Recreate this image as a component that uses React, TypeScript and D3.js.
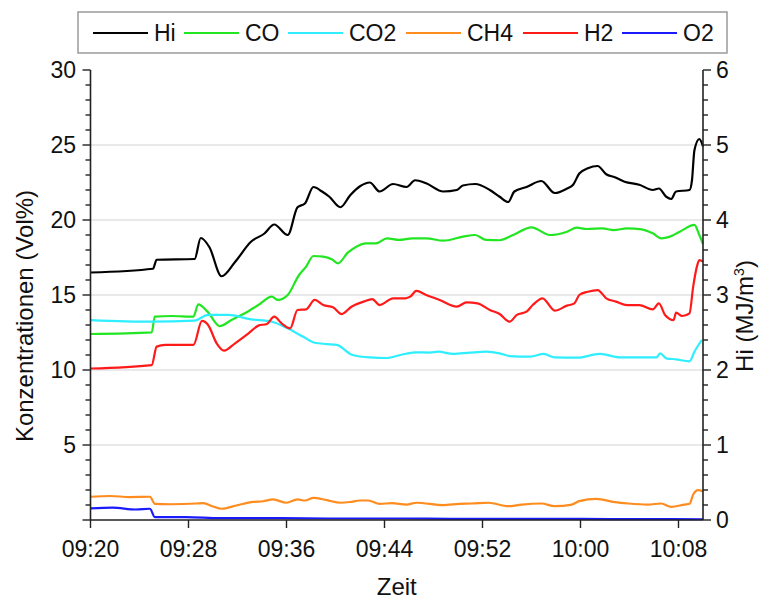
import React from "react";
import * as d3 from "d3";

// Minutes after 09:20 and measured values per gas / heating value
const START = new Date(2020, 0, 1, 9, 20, 0);

const hiData: [number, number][] = [
  [0.0, 3.3], [5.1, 3.35], [5.4, 3.47], [8.5, 3.48], [9.0, 3.76], [9.7, 3.64], [10.7, 3.25],
  [11.8, 3.44], [13.1, 3.71], [14.2, 3.82], [15.0, 3.94], [16.1, 3.8], [16.9, 4.17], [17.5, 4.22],
  [18.2, 4.44], [18.9, 4.38], [19.5, 4.31], [20.4, 4.17], [21.2, 4.33], [22.0, 4.45], [22.8, 4.5],
  [23.6, 4.38], [24.7, 4.48], [25.8, 4.44], [26.5, 4.53], [27.4, 4.49], [28.8, 4.38], [29.9, 4.4],
  [30.4, 4.46], [31.4, 4.48], [32.6, 4.4], [33.4, 4.31], [34.1, 4.24], [34.6, 4.38], [35.6, 4.44],
  [36.8, 4.52], [37.9, 4.36], [38.9, 4.42], [39.4, 4.47], [39.9, 4.62], [40.6, 4.69], [41.4, 4.72],
  [42.1, 4.61], [42.8, 4.57], [43.6, 4.51], [44.8, 4.47], [45.9, 4.4], [46.4, 4.42], [47.0, 4.31],
  [47.4, 4.28], [47.8, 4.38], [48.9, 4.4], [49.1, 4.53], [49.3, 4.93], [49.7, 5.08], [50.0, 4.98],
];

const coData: [number, number][] = [
  [0.0, 12.4], [5.0, 12.51], [5.25, 13.56], [6.6, 13.6], [8.4, 13.56], [8.8, 14.38], [9.55, 13.89],
  [10.55, 12.93], [11.5, 13.33], [12.6, 13.78], [13.7, 14.33], [14.8, 14.89], [15.3, 14.67],
  [16.1, 15.0], [17.0, 16.3], [17.6, 16.89], [18.2, 17.6], [19.0, 17.56], [19.7, 17.38],
  [20.2, 17.11], [21.0, 17.82], [21.7, 18.22], [22.5, 18.44], [23.3, 18.44], [24.2, 18.78],
  [25.2, 18.67], [26.3, 18.78], [27.4, 18.78], [28.8, 18.62], [30.4, 18.89], [31.4, 19.0],
  [32.3, 18.67], [33.4, 18.65], [34.5, 19.0], [36.0, 19.51], [37.5, 19.0], [38.9, 19.22],
  [39.7, 19.49], [40.5, 19.4], [41.8, 19.44], [42.7, 19.33], [43.8, 19.44], [45.0, 19.38],
  [45.9, 19.11], [46.6, 18.78], [47.3, 18.89], [48.1, 19.22], [49.3, 19.67], [49.7, 19.0], [50.0, 18.4],
];

const co2Data: [number, number][] = [
  [0.0, 13.33], [5.0, 13.22], [8.5, 13.29], [9.6, 13.67], [11.2, 13.67], [13.1, 13.38], [14.8, 13.22],
  [16.1, 12.78], [17.4, 12.2], [18.3, 11.82], [19.3, 11.73], [20.1, 11.67], [21.4, 11.0], [22.8, 10.84],
  [24.2, 10.8], [25.3, 11.0], [26.5, 11.18], [27.7, 11.16], [28.4, 11.22], [29.6, 11.07], [31.0, 11.16],
  [32.3, 11.22], [33.4, 11.11], [34.2, 10.93], [35.9, 10.89], [37.0, 11.07], [37.9, 10.84], [39.7, 10.82],
  [41.6, 11.07], [43.2, 10.84], [44.8, 10.84], [46.2, 10.84], [46.5, 11.11], [47.0, 10.78], [47.8, 10.71],
  [48.9, 10.58], [49.3, 11.22], [49.9, 12.0],
];

const ch4Data: [number, number][] = [
  [0.0, 1.55], [1.6, 1.6], [3.2, 1.53], [4.85, 1.55], [5.25, 1.08], [6.5, 1.05], [8.65, 1.1], [9.2, 1.13],
  [10.0, 0.9], [10.7, 0.75], [11.9, 0.97], [13.3, 1.21], [14.1, 1.25], [14.9, 1.37], [16.0, 1.15],
  [16.9, 1.37], [17.5, 1.3], [18.2, 1.48], [19.3, 1.32], [20.4, 1.15], [21.2, 1.2], [22.0, 1.3],
  [22.7, 1.3], [23.6, 1.08], [24.6, 1.12], [25.8, 1.03], [26.6, 1.15], [28.8, 0.99], [30.1, 1.08],
  [31.1, 1.1], [32.5, 1.15], [34.1, 0.92], [35.2, 1.03], [36.8, 1.1], [37.9, 0.92], [39.3, 1.03],
  [39.9, 1.26], [41.3, 1.41], [42.8, 1.19], [43.9, 1.1], [45.5, 1.03], [46.6, 1.1], [47.4, 0.88],
  [48.5, 1.03], [48.9, 1.08], [49.2, 1.7], [49.6, 1.99], [50.0, 1.9],
];

const h2Data: [number, number][] = [
  [0.0, 10.1], [5.0, 10.33], [5.4, 11.56], [6.1, 11.67], [8.4, 11.67], [9.1, 13.27], [9.6, 13.0],
  [10.3, 11.78], [10.9, 11.29], [11.8, 11.78], [12.9, 12.44], [13.7, 12.96], [14.4, 13.07], [15.0, 13.56],
  [15.6, 13.11], [16.3, 12.78], [16.9, 14.0], [17.6, 14.04], [18.3, 14.67], [19.0, 14.33], [19.8, 14.18],
  [20.5, 13.73], [21.3, 14.22], [22.3, 14.56], [23.0, 14.73], [23.6, 14.33], [24.7, 14.78], [25.7, 14.78],
  [26.1, 14.89], [26.6, 15.27], [27.4, 15.0], [28.5, 14.67], [29.9, 14.22], [30.7, 14.51], [31.6, 14.44],
  [32.6, 14.0], [33.4, 13.73], [34.2, 13.22], [34.8, 13.67], [35.6, 13.89], [36.1, 14.33], [36.9, 14.78],
  [37.9, 13.96], [38.9, 14.29], [39.5, 14.44], [39.9, 15.0], [40.6, 15.22], [41.4, 15.33], [42.1, 14.78],
  [42.9, 14.56], [43.8, 14.33], [44.8, 14.33], [45.9, 14.04], [46.4, 14.44], [46.9, 13.67], [47.6, 13.33],
  [47.8, 13.82], [48.3, 13.6], [48.9, 13.78], [49.2, 15.56], [49.5, 16.89], [49.7, 17.33], [50.0, 17.22],
];

const o2Data: [number, number][] = [
  [0.0, 0.77], [1.8, 0.82], [3.7, 0.7], [4.85, 0.75], [5.25, 0.19], [7.8, 0.19], [10.6, 0.12],
  [15.0, 0.12], [20.0, 0.1], [25.0, 0.1], [30.0, 0.08], [35.0, 0.08], [40.0, 0.07], [45.0, 0.06], [50.0, 0.05],
];

const seriesNames = ["Hi", "CO", "CO2", "CH4", "H2", "O2"];
const seriesColors = ["#000000", "#22e622", "#2eeeff", "#ff8c1e", "#ff1a1a", "#1a1aff"];
const seriesData = [hiData, coData, co2Data, ch4Data, h2Data, o2Data];

const leftTicks = [5, 10, 15, 20, 25, 30];
const rightTicks = [0, 1, 2, 3, 4, 5, 6];
const timeTicks = ["09:20", "09:28", "09:36", "09:44", "09:52", "10:00", "10:08"];

const W = 761;
const H = 600;
const M = { left: 90.5, right: 703, top: 70, bottom: 520 };
const FONT = "'Liberation Sans', Arial, sans-serif";
const TICK_FONT = 23;
const TITLE_FONT = 24;

const toDate = (m: number) => new Date(START.getTime() + m * 60000);
const parseHM = d3.timeParse("%H:%M");

export default function App() {
  const x = d3.scaleTime().domain([toDate(0), toDate(50)]).range([M.left, M.right]);
  const yL = d3.scaleLinear().domain([0, 30]).range([M.bottom, M.top]);
  const yR = d3.scaleLinear().domain([0, 6]).range([M.bottom, M.top]);

  const makeLine = (scale: d3.ScaleLinear<number, number>) =>
    d3
      .line<[number, number]>()
      .x((d) => x(toDate(d[0])))
      .y((d) => scale(d[1]))
      .curve(d3.curveMonotoneX);

  const lineL = makeLine(yL);
  const lineR = makeLine(yR);

  const tickDates = timeTicks.map((t) => {
    const p = parseHM(t)!;
    return new Date(2020, 0, 1, p.getHours(), p.getMinutes());
  });

  const leftMinor = d3.range(0, 31, 1);
  const rightMinor = d3.range(0, 6.001, 0.2);

  const legendX = [93, 184, 288, 406, 523, 622];
  const midY = 316;

  return (
    <svg width={W} height={H} style={{ display: "block", position: "absolute", left: 0, top: 0 }} fontFamily={FONT}>
      <rect x={0} y={0} width={W} height={H} fill="#fff" />
      {/* horizontal grid */}
      {[5, 10, 15, 20, 25].map((v) => (
        <line key={v} x1={M.left} x2={M.right} y1={yL(v)} y2={yL(v)} stroke="#e2e2e2" strokeWidth={1.5} />
      ))}

      {/* data lines */}
      {seriesData.map((data, i) => (
        <path
          key={seriesNames[i]}
          d={(i === 0 ? lineR : lineL)(data) || ""}
          fill="none"
          stroke={seriesColors[i]}
          strokeWidth={2.2}
          strokeLinejoin="round"
        />
      ))}

      {/* left axis */}
      <line x1={M.left} x2={M.left} y1={M.top} y2={M.bottom} stroke="#222" strokeWidth={1.6} />
      {leftMinor.map((v) => (
        <line key={v} x1={M.left - (v % 5 === 0 ? 8 : 5)} x2={M.left} y1={yL(v)} y2={yL(v)} stroke="#222" strokeWidth={1.4} />
      ))}
      {leftTicks.map((v) => (
        <text key={v} x={76} y={yL(v) + 8} textAnchor="end" fontSize={TICK_FONT} fill="#111">
          {v}
        </text>
      ))}

      {/* right axis */}
      <line x1={M.right} x2={M.right} y1={M.top} y2={M.bottom} stroke="#222" strokeWidth={1.6} />
      {rightMinor.map((v, i) => (
        <line key={i} x1={M.right} x2={M.right + (i % 5 === 0 ? 8 : 5)} y1={yR(v)} y2={yR(v)} stroke="#222" strokeWidth={1.4} />
      ))}
      {rightTicks.map((v) => (
        <text key={v} x={716} y={yR(v) + 8} textAnchor="start" fontSize={TICK_FONT} fill="#111">
          {v}
        </text>
      ))}

      {/* bottom axis */}
      <line x1={M.left} x2={M.right} y1={M.bottom} y2={M.bottom} stroke="#222" strokeWidth={1.6} />
      {tickDates.map((d, i) => (
        <g key={i}>
          <line x1={x(d)} x2={x(d)} y1={M.bottom} y2={M.bottom + 8} stroke="#222" strokeWidth={1.4} />
          <text x={x(d)} y={557} textAnchor="middle" fontSize={TICK_FONT} fill="#111">
            {timeTicks[i]}
          </text>
        </g>
      ))}

      {/* axis titles */}
      <text x={(M.left + M.right) / 2} y={595} textAnchor="middle" fontSize={TITLE_FONT} fill="#111">
        Zeit
      </text>
      <text transform={`translate(33,${midY}) rotate(-90)`} textAnchor="middle" fontSize={TITLE_FONT} fill="#111">
        Konzentrationen (Vol%)
      </text>
      <text transform={`translate(753,${midY}) rotate(-90)`} textAnchor="middle" fontSize={TITLE_FONT} fill="#111">
        Hi (MJ/m<tspan dy={-9} fontSize={14}>3</tspan>
        <tspan dy={9}>)</tspan>
      </text>

      {/* legend */}
      <rect x={78} y={12} width={649} height={41} fill="#fff" stroke="#9a9a9a" strokeWidth={1.5} />
      {seriesNames.map((name, i) => (
        <g key={name}>
          <line x1={legendX[i]} x2={legendX[i] + 55} y1={33} y2={33} stroke={seriesColors[i]} strokeWidth={2.2} />
          <text x={legendX[i] + 61} y={41} fontSize={TICK_FONT} fill="#111">
            {name}
          </text>
        </g>
      ))}
    </svg>
  );
}
